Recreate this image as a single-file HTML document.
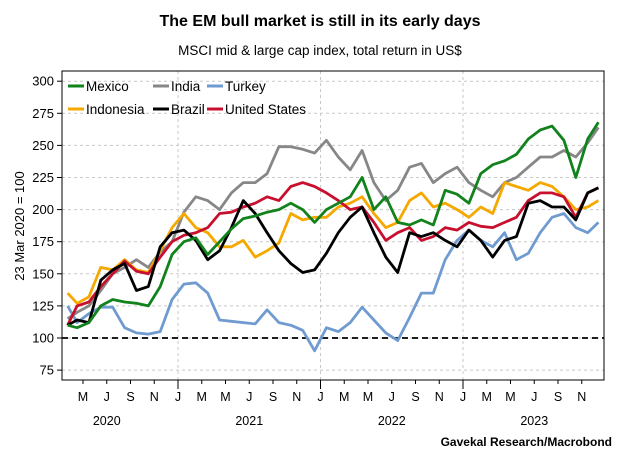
<!DOCTYPE html>
<html><head><meta charset="utf-8">
<style>
body{margin:0;background:#fff;}
svg{display:block;font-family:"Liberation Sans",sans-serif;}
</style></head>
<body>
<svg id="chart" width="620" height="465" viewBox="0 0 620 465">
<text x="320" y="26" text-anchor="middle" font-size="16" font-weight="bold" fill="#000">The EM bull market is still in its early days</text>
<text x="320" y="55" text-anchor="middle" font-size="13.5" fill="#000">MSCI mid &amp; large cap index, total return in US$</text>
<text transform="translate(24,226) rotate(-90)" text-anchor="middle" font-size="13" fill="#000">23 Mar 2020 = 100</text>
<text x="612" y="446" text-anchor="end" font-size="12" font-weight="bold" fill="#000">Gavekal Research/Macrobond</text>
<g id="grid"></g>
<g id="series"></g>
<g id="axes"></g>
<g id="legend"></g>
</svg>
<script>
const months = [2.7,3.5,4.5,5.5,6.5,7.5,8.5,9.5,10.5,11.5,12.5,13.5,14.5,15.5,16.5,17.5,18.5,19.5,20.5,21.5,22.5,23.5,24.5,25.5,26.5,27.5,28.5,29.5,30.5,31.5,32.5,33.5,34.5,35.5,36.5,37.5,38.5,39.5,40.5,41.5,42.5,43.5,44.5,45.5,46.5,47.4];
const mexico = [110,108,112,125,130,128,127,125,140,165,175,178,165,175,185,193,195,198,200,205,200,190,200,205,210,225,200,210,190,188,192,188,215,212,205,228,235,238,243,255,262,265,254,225,255,268];
const india = [115,120,125,137,150,155,161,155,167,175,198,210,207,200,213,221,221,228,249,249,247,244,254,241,231,246,221,207,215,233,236,221,228,233,221,215,210,221,225,233,241,241,246,241,252,264];
const indonesia = [135,127,132,155,153,161,153,151,168,186,197,186,182,171,171,176,163,168,174,197,192,194,194,202,205,210,197,186,190,207,213,202,205,200,194,202,197,221,218,215,221,218,210,200,202,207];
const brazil = [110,114,112,145,153,158,137,140,171,182,184,176,161,168,186,207,197,182,168,158,151,153,166,182,194,202,182,163,151,182,179,182,176,171,184,176,163,176,179,205,207,202,202,192,213,217];
const usa = [110,125,128,140,150,160,152,150,163,175,180,182,186,197,198,202,205,210,207,218,221,218,213,207,200,202,190,176,182,186,176,179,186,184,190,187,186,190,194,207,213,213,210,194,213,217];
const turkey = [125,112,119,124,124,108,104,103,105,130,142,143,135,114,113,112,111,122,112,110,106,90,108,105,112,124,114,104,98,116,135,135,161,176,184,176,171,182,161,166,182,194,197,186,182,190];
const yTicks = [75,100,125,150,175,200,225,250,275,300];
const monthLabels = ["M","J","S","N","J","M","M","J","S","N","J","M","M","J","S","N","J","M","M","J","S","N"];
const monthLabelPos = [4,6,8,10,12,14,16,18,20,22,24,26,28,30,32,34,36,38,40,42,44,46];
const years = ["2020","2021","2022","2023"];

const NS="http://www.w3.org/2000/svg";
const L=62,R=604,T=71,B=380;
function x(m){return 35.5+m*11.875;}
function y(v){return 338-(v-100)*32.1/25;}
function mk(tag,attrs,parent){const e=document.createElementNS(NS,tag);for(const k in attrs)e.setAttribute(k,attrs[k]);parent.appendChild(e);return e;}
const grid=document.getElementById('grid'),axes=document.getElementById('axes'),ser=document.getElementById('series'),leg=document.getElementById('legend');

yTicks.forEach(v=>{
  const g=mk('line',{x1:L,x2:R,y1:y(v),y2:y(v),stroke:'#c8c8c8','stroke-dasharray':'3,3','stroke-width':1},grid);
  
  
  const tk=mk('line',{x1:L-5,x2:L,y1:y(v),y2:y(v),stroke:'#000'},axes);
  
  
  const t=mk('text',{x:L-8,y:y(v)+4.5,'text-anchor':'end','font-size':13,fill:'#000'},axes);
  t.textContent=v;
  
  
});
[12,24,36].forEach(m=>{
  const g=mk('line',{x1:x(m),x2:x(m),y1:T,y2:B,stroke:'#c8c8c8','stroke-dasharray':'3,3'},grid);
  
  
  const tk=mk('line',{x1:x(m),x2:x(m),y1:B,y2:B+9,stroke:'#000'},axes);
  
  
});
monthLabels.forEach((lab,i)=>{
  const m=monthLabelPos[i];
  const tk=mk('line',{x1:x(m),x2:x(m),y1:B,y2:B+4,stroke:'#000'},axes);
  
  
  const t=mk('text',{x:x(m),y:401,'text-anchor':'middle','font-size':12.5,fill:'#000'},axes);
  t.textContent=lab;
  
  
});
years.forEach((yr,i)=>{
  const t=mk('text',{x:x(i*12+6),y:425,'text-anchor':'middle','font-size':12.5,fill:'#000'},axes);
  t.textContent=yr;
  
  
});
const base=mk('line',{x1:L,x2:R,y1:y(100),y2:y(100),stroke:'#000','stroke-width':1.8,'stroke-dasharray':'6,4'},ser);



const seriesList=[
 {name:'turkey',label:'Turkey',data:turkey,color:'#6f9bd1'},
 {name:'india',label:'India',data:india,color:'#878787'},
 {name:'indonesia',label:'Indonesia',data:indonesia,color:'#f5a800'},
 {name:'united-states',label:'United States',data:usa,color:'#c8102e'},
 {name:'brazil',label:'Brazil',data:brazil,color:'#000000'},
 {name:'mexico',label:'Mexico',data:mexico,color:'#11821c'}
];
seriesList.forEach(s=>{
  const d=s.data.map((v,i)=>(i?'L':'M')+x(months[i]).toFixed(1)+','+y(v).toFixed(1)).join(' ');
  const p=mk('path',{d:d,fill:'none',stroke:s.color,'stroke-width':2.8,'stroke-linejoin':'round'},ser);
  
  
});
const frame=mk('rect',{x:L,y:T,width:R-L,height:B-T,fill:'none',stroke:'#000','stroke-width':1},axes);



const legItems=[
 {label:'Mexico',color:'#11821c',x:68,y:86},{label:'India',color:'#878787',x:153,y:86},{label:'Turkey',color:'#6f9bd1',x:207,y:86},
 {label:'Indonesia',color:'#f5a800',x:68,y:109},{label:'Brazil',color:'#000000',x:153,y:109},{label:'United States',color:'#c8102e',x:207,y:109}
];
legItems.forEach(it=>{
  const ln=mk('line',{x1:it.x,x2:it.x+16,y1:it.y,y2:it.y,stroke:it.color,'stroke-width':3},leg);
  
  
  const t=mk('text',{x:it.x+18,y:it.y+5,'font-size':13.5,fill:'#000'},leg);
  t.textContent=it.label;
  
  
});
</script>
</body></html>
